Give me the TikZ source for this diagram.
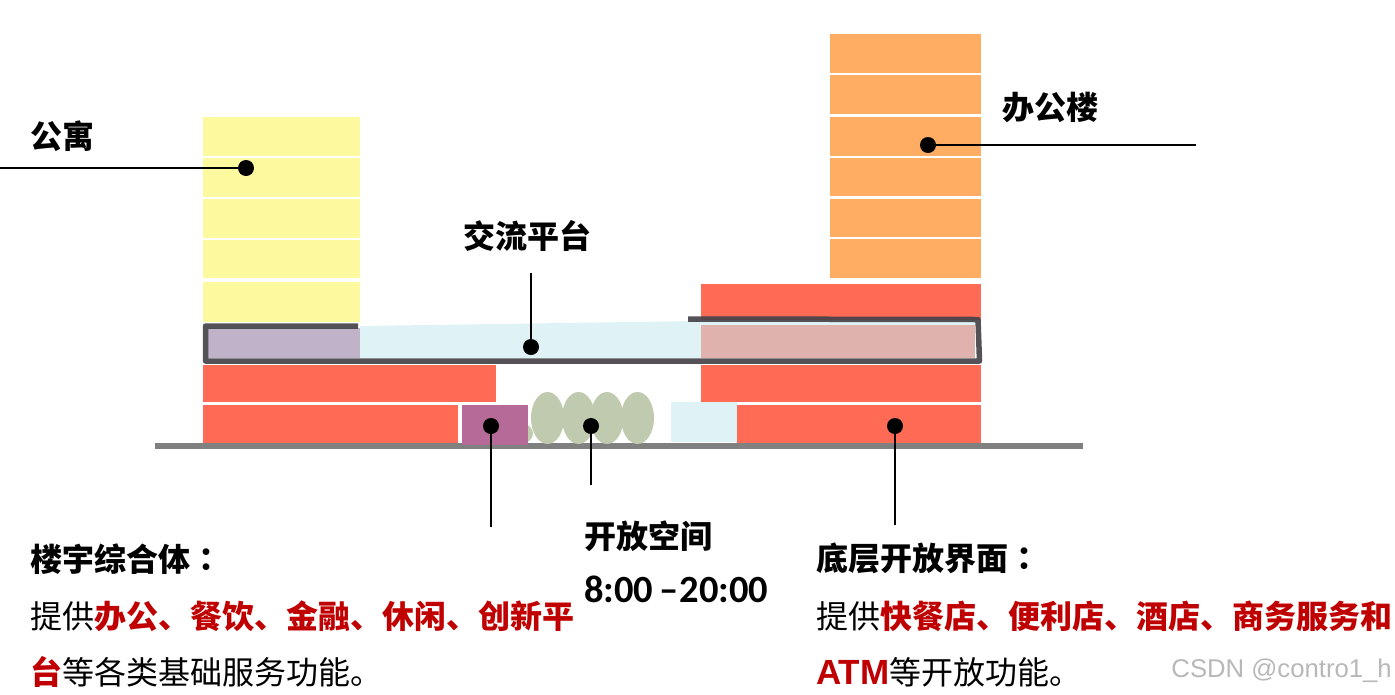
\documentclass[tikz,border=0pt]{standalone}
\usepackage{fontspec}
\usepackage{xcolor}
\usepackage{tikz}
\usetikzlibrary{positioning,shapes.geometric}
\setmainfont{Noto Sans CJK SC}
\newfontfamily\arialfont{Liberation Sans}
\newfontfamily\timefont{Carlito}
\newfontfamily\colonfont{Noto Sans CJK TC}
\definecolor{aptyellow}{HTML}{FDF99F}
\definecolor{offorange}{HTML}{FFAD62}
\definecolor{podred}{HTML}{FF6B55}
\definecolor{shopplum}{HTML}{B66A97}
\definecolor{treegreen}{HTML}{BFCAAE}
\definecolor{decksky}{HTML}{DFF2F6}
\definecolor{decklilac}{HTML}{C0B2C8}
\definecolor{deckpink}{HTML}{DFB2AD}
\definecolor{framedark}{HTML}{47444A}
\definecolor{textred}{HTML}{C00000}
\tikzset{
  slab/.style={inner sep=0pt, outer sep=0pt, anchor=north west},
  apt/.style={slab, fill=aptyellow, minimum width=157pt},
  off/.style={slab, fill=offorange, minimum width=151pt},
  pod/.style={slab, fill=podred},
  tree/.style={ellipse, fill=treegreen, inner sep=0pt, minimum width=33pt, minimum height=52pt},
  dot/.style={circle, fill=black, inner sep=0pt, minimum size=16pt},
  lead/.style={black, line width=1.7pt},
  frame/.style={framedark, opacity=.93, line width=5.5pt, line join=round},
  lbl/.style={inner sep=0pt, anchor=west, text height=28pt, text depth=4pt,
              font=\fontsize{32}{38}\selectfont},
  hd/.style={lbl, font=\fontsize{32}{38}\selectfont\bfseries},
}
\newcommand{\hot}[1]{\textcolor{textred}{\bfseries #1}}
\begin{document}
\begin{tikzpicture}[x=1pt, y=-1pt]
  \useasboundingbox (0,0) rectangle (1395,694);
  % apartment tower
  \node[apt, minimum height=39pt] (apt1) at (203,117) {};
  \node[apt, minimum height=39pt, below=2pt of apt1] (apt2) {};
  \node[apt, minimum height=39pt, below=2pt of apt2] (apt3) {};
  \node[apt, minimum height=38pt, below=2pt of apt3] (apt4) {};
  \node[apt, minimum height=40pt, below=4pt of apt4] (apt5) {};
  % office tower
  \node[off, minimum height=39pt] (off1) at (830,34) {};
  \node[off, minimum height=39pt, below=2pt of off1] (off2) {};
  \node[off, minimum height=39pt, below=3pt of off2] (off3) {};
  \node[off, minimum height=38pt, below=2pt of off3] (off4) {};
  \node[off, minimum height=38pt, below=3pt of off4] (off5) {};
  \node[off, minimum height=39pt, below=2pt of off5] (off6) {};
  % ground line
  \node[slab, fill=gray, minimum width=928pt, minimum height=6pt] (ground) at (155,443) {};
  % podium
  \node[pod, minimum width=280pt, minimum height=36pt] (podtop) at (701,284) {};
  \node[pod, minimum width=293pt, minimum height=37pt] (podl1) at (203,365) {};
  \node[pod, minimum width=255pt, minimum height=38pt] (podl2) at (203,405) {};
  \node[pod, minimum width=280pt, minimum height=37pt] (podr1) at (701,365) {};
  \node[pod, minimum width=244pt, minimum height=38pt] (podr2) at (737,405) {};
  % open space
  \node[tree, minimum width=26pt, minimum height=21pt] (tree0) at (520,433.5) {};
  \node[tree] (tree1) at (547.5,418) {};
  \node[tree] (tree2) at (578.5,418) {};
  \node[tree] (tree3) at (607,418) {};
  \node[tree] (tree4) at (637.5,418) {};
  \node[slab, fill=shopplum, minimum width=66pt, minimum height=40pt] (shop) at (462,405) {};
  \node[slab, fill=decksky, minimum width=66pt, minimum height=40pt] (kiosk) at (671,402) {};
  % platform
  \fill[decksky] (360,326) -- (701,321) -- (701,358) -- (360,358) -- cycle;
  \fill[decksky] (701,321) -- (975,322) -- (975,325) -- (701,325) -- cycle;
  \fill[decklilac] (208,328) rectangle (360,358);
  \fill[deckpink] (701,325) rectangle (975,358);
  \draw[frame] (358,326) -- (205.5,326) -- (205.5,361) -- (979.5,361) -- (978,319.5) -- (688,319);
  % leaders
  \coordinate (aptend) at (0,168);
  \coordinate (offend) at (1196,145);
  \coordinate (deckend) at (531,273);
  \coordinate (shopend) at (491,527);
  \coordinate (openend) at (591,485);
  \coordinate (faceend) at (895,525);
  \node[dot] (aptdot) at (246,168) {};
  \node[dot] (offdot) at (928,145) {};
  \node[dot] (deckdot) at (531,347) {};
  \node[dot] (shopdot) at (491,426) {};
  \node[dot] (opendot) at (591,426) {};
  \node[dot] (facedot) at (895,426) {};
  \draw[lead] (aptend) -- (aptdot.center);
  \draw[lead] (offend) -- (offdot.center);
  \draw[lead] (deckend) -- (deckdot.center);
  \draw[lead] (shopend) -- (shopdot.center);
  \draw[lead] (openend) -- (opendot.center);
  \draw[lead] (faceend) -- (facedot.center);
  % labels
  \node[hd] (aptlbl) at (30,136) {公寓};
  \node[hd] (offlbl) at (1002,107) {办公楼};
  \node[hd] (decklbl) at (463,236) {交流平台};
  \node[hd] (openlbl) at (584,536) {开放空间};
  \node[hd, font=\timefont\fontsize{38.5}{40}\selectfont\bfseries, below=22pt of openlbl.south west, anchor=north west] (timelbl)
    {8:00\hspace{6pt}–\hspace{1pt}20:00};
  % text blocks
  \node[hd] (mixhead) at (30,559) {楼宇综合体{\colonfont：}};
  \node[lbl, below=25pt of mixhead.south west, anchor=north west] (mixline1)
    {提供\hot{办公、餐饮、金融、休闲、创新平}};
  \node[lbl, below=24pt of mixline1.south west, anchor=north west] (mixline2)
    {\hot{台}等各类基础服务功能。};
  \node[hd] (facehead) at (816,558) {底层开放界面{\colonfont：}};
  \node[lbl, below=26pt of facehead.south west, anchor=north west] (faceline1)
    {提供\hot{快餐店、便利店、酒店、商务服务和}};
  \node[lbl, below=24pt of faceline1.south west, anchor=north west] (faceline2)
    {\hot{\arialfont\fontsize{35}{38}\selectfont ATM}等开放功能。};
  \node[inner sep=0pt, anchor=east, text=black!28, font=\arialfont\fontsize{25.7}{28}\selectfont] (mark) at (1392,671)
    {CSDN @contro1\_h};
\end{tikzpicture}
\end{document}
